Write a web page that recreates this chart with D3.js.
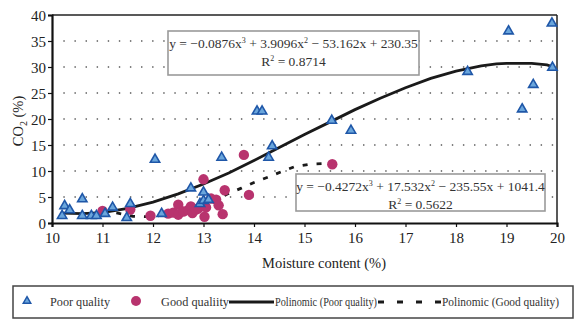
<!DOCTYPE html>
<html>
<head>
<meta charset="utf-8">
<script src="https://cdn.jsdelivr.net/npm/d3@7"></script>
<style>
  body { margin: 0; background: #fff; }
  svg { font-family: "Liberation Serif", "DejaVu Serif", serif; }
</style>
</head>
<body>
<div id="chart"></div>
<script>
var w = 577, h = 321;
var plotL = 52, plotR = 557, plotT = 15, plotB = 223;

// poor quality samples: moisture %, CO2 %
var poorX = [10.2, 10.25, 10.35, 10.6, 10.6, 10.78, 10.88, 11.05, 11.2, 11.48, 11.55, 12.04, 12.17,
             12.75, 12.93, 13.0, 13.0, 13.1, 13.36, 14.06, 14.16, 14.29, 14.36, 15.54, 15.92,
             18.23, 19.04, 19.31, 19.53, 19.9, 19.91];
var poorY = [1.2, 3.1, 2.3, 4.4, 1.2, 1.2, 1.2, 1.6, 2.8, 0.8, 3.5, 12.0, 1.6,
             6.5, 3.5, 4.1, 5.7, 4.3, 12.4, 21.3, 21.3, 12.4, 14.6, 19.5, 17.6,
             28.9, 36.7, 21.7, 26.4, 38.2, 29.7];

// good quality samples
var goodX = [11.0, 11.55, 11.95, 12.3, 12.4, 12.5, 12.5, 12.6, 12.7, 12.75, 12.78, 12.85, 12.9,
             13.0, 13.02, 13.05, 13.15, 13.25, 13.3, 13.38, 13.42, 13.8, 13.9, 15.55];
var goodY = [2.3, 2.6, 1.4, 1.8, 2.0, 3.5, 1.6, 2.2, 2.5, 3.2, 1.9, 2.6, 2.8,
             8.4, 1.2, 3.0, 4.7, 4.5, 3.4, 1.7, 6.3, 13.1, 5.4, 11.3];

// trend curves
var trendPoorX = [10.2, 10.6, 11.0, 11.5, 12.0, 12.5, 13.0, 13.5, 14.0, 14.5, 15.0, 15.5, 16.0,
                  16.5, 17.0, 17.5, 18.0, 18.5, 18.8, 19.0, 19.5, 19.8, 19.9];
var trendPoorY = [1.9, 1.8, 2.0, 2.8, 4.0, 5.6, 7.5, 9.6, 12.0, 14.5, 17.0, 19.4, 21.8,
                  24.0, 26.0, 27.8, 29.2, 30.2, 30.6, 30.7, 30.7, 30.4, 30.1];
var trendGoodX = [11.0, 11.3, 11.6, 12.0, 12.4, 12.7, 13.0, 13.25, 13.5, 13.75, 14.0, 14.3, 14.55,
                  14.8, 15.1, 15.55];
var trendGoodY = [2.4, 1.9, 1.3, 1.2, 1.9, 2.6, 3.5, 4.4, 5.7, 6.7, 7.8, 8.9, 9.9,
                  10.8, 11.3, 11.5];

var xTicks = [10, 11, 12, 13, 14, 15, 16, 17, 18, 19, 20];
var yTicks = [0, 5, 10, 15, 20, 25, 30, 35, 40];

var triColor = "#6aa6dc", triStroke = "#1f57a8", dotColor = "#b8336e";

var svg = d3.select("#chart").append("svg")
    .attr("width", w)
    .attr("height", h);

var x = d3.scaleLinear().domain([10, 20]).range([plotL, plotR]);
var y = d3.scaleLinear().domain([0, 40]).range([plotB, plotT]);

// dotted grid
svg.append("g").selectAll("line")
    .data(yTicks.filter(function (d) { return d > 0 && d < 40; }))
    .enter().append("line")
    .attr("x1", plotL + 12).attr("x2", plotR)
    .attr("y1", function (d) { return y(d); })
    .attr("y2", function (d) { return y(d); })
    .attr("stroke", "#444")
    .attr("stroke-width", 1.6)
    .attr("stroke-linecap", "round")
    .attr("stroke-dasharray", "0.1,11");

// frame top / right
svg.append("line").attr("x1", plotL).attr("x2", plotR).attr("y1", plotT).attr("y2", plotT)
    .attr("stroke", "#222").attr("stroke-width", 1.5);
svg.append("line").attr("x1", plotR).attr("x2", plotR).attr("y1", plotT).attr("y2", plotB)
    .attr("stroke", "#222").attr("stroke-width", 1.5);

// axes
var xAxis = d3.axisBottom(x).tickValues(xTicks).tickSize(4).tickPadding(5);
var yAxis = d3.axisLeft(y).tickValues(yTicks).tickSize(4).tickPadding(2);

var gx = svg.append("g").attr("transform", "translate(0," + plotB + ")").call(xAxis);
var gy = svg.append("g").attr("transform", "translate(" + plotL + ",0)").call(yAxis);
[gx, gy].forEach(function (g) {
    g.select(".domain").attr("stroke", "#111").attr("stroke-width", 2.2);
    g.selectAll(".tick line").attr("stroke", "#111").attr("stroke-width", 1.2);
    g.selectAll(".tick text")
        .attr("font-family", "Liberation Serif, serif")
        .attr("font-size", 15)
        .attr("fill", "#222");
});
gy.selectAll(".tick text").attr("dy", "0.35em");

// axis titles
svg.append("text")
    .attr("x", 324).attr("y", 268)
    .attr("text-anchor", "middle")
    .attr("font-size", 14.5)
    .attr("fill", "#222")
    .text("Moisture content (%)");

var yl = svg.append("text")
    .attr("transform", "translate(23,121) rotate(-90)")
    .attr("text-anchor", "middle")
    .attr("font-size", 14.5)
    .attr("fill", "#222");
yl.append("tspan").text("CO");
yl.append("tspan").attr("font-size", 10).attr("dy", 4).text("2");
yl.append("tspan").attr("dy", -4).text(" (%)");

// trend lines
var line = d3.line()
    .x(function (d) { return x(d[0]); })
    .y(function (d) { return y(d[1]); });

svg.append("path")
    .datum(d3.zip(trendPoorX, trendPoorY))
    .attr("d", line)
    .attr("fill", "none")
    .attr("stroke", "#1a1a1a")
    .attr("stroke-width", 2.8);

svg.append("path")
    .datum(d3.zip(trendGoodX, trendGoodY))
    .attr("d", line)
    .attr("fill", "none")
    .attr("stroke", "#1a1a1a")
    .attr("stroke-width", 2.8)
    .attr("stroke-dasharray", "5,9");

// points
var tri = d3.symbol().type(d3.symbolTriangle).size(38);

svg.append("g").selectAll("circle")
    .data(d3.zip(goodX, goodY))
    .enter().append("circle")
    .attr("cx", function (d) { return x(d[0]); })
    .attr("cy", function (d) { return y(d[1]); })
    .attr("r", 5.2)
    .attr("fill", dotColor);

svg.append("g").selectAll("path")
    .data(d3.zip(poorX, poorY))
    .enter().append("path")
    .attr("d", tri)
    .attr("transform", function (d) { return "translate(" + x(d[0]) + "," + (y(d[1]) - 1) + ")"; })
    .attr("fill", triColor)
    .attr("stroke", triStroke)
    .attr("stroke-width", 1.6);

// equation boxes
function eqBox(bx, by, bw, bh, a, b, c, d, r2) {
    var g = svg.append("g");
    g.append("rect")
        .attr("x", bx).attr("y", by).attr("width", bw).attr("height", bh)
        .attr("fill", "#fff").attr("stroke", "#9a9a9a").attr("stroke-width", 1.6);
    var t = g.append("text")
        .attr("x", bx + bw / 2).attr("y", by + 17)
        .attr("text-anchor", "middle").attr("font-size", 13.5).attr("fill", "#333");
    t.append("tspan").text("y = \u2212" + a + "x");
    t.append("tspan").attr("font-size", 8).attr("dy", -5).text("3");
    t.append("tspan").attr("dy", 5).text(" + " + b + "x");
    t.append("tspan").attr("font-size", 8).attr("dy", -5).text("2");
    t.append("tspan").attr("dy", 5).text(" \u2212 " + c + "x + " + d);
    var t2 = g.append("text")
        .attr("x", bx + bw / 2).attr("y", by + 35)
        .attr("text-anchor", "middle").attr("font-size", 13.5).attr("fill", "#333");
    t2.append("tspan").text("R");
    t2.append("tspan").attr("font-size", 8).attr("dy", -5).text("2");
    t2.append("tspan").attr("dy", 5).text(" = " + r2);
}
eqBox(168, 31, 251, 44, "0.0876", "3.9096", "53.162", "230.35", "0.8714");
eqBox(296, 174, 249, 37, "0.4272", "17.532", "235.55", "1041.4", "0.5622");

// legend
var lg = svg.append("g");
lg.append("rect")
    .attr("x", 13).attr("y", 286).attr("width", 560).attr("height", 32)
    .attr("fill", "#fff").attr("stroke", "#444").attr("stroke-width", 1.5);
var ly = 302;
lg.append("path").attr("d", d3.symbol().type(d3.symbolTriangle).size(24))
    .attr("transform", "translate(27," + (ly - 1) + ")")
    .attr("fill", triColor).attr("stroke", triStroke).attr("stroke-width", 1.5);
lg.append("circle").attr("cx", 136).attr("cy", ly - 1).attr("r", 5).attr("fill", dotColor);
lg.append("line").attr("x1", 229).attr("x2", 274).attr("y1", ly).attr("y2", ly)
    .attr("stroke", "#1a1a1a").attr("stroke-width", 2.8);
lg.append("line").attr("x1", 378).attr("x2", 442).attr("y1", ly).attr("y2", ly)
    .attr("stroke", "#1a1a1a").attr("stroke-width", 2.8).attr("stroke-dasharray", "6,13");
var labels = [["Poor quality", 50, 60], ["Good qualiity", 161, 68],
              ["Polinomic (Poor quality)", 275, 102], ["Polinomic (Good quality)", 442, 117]];
lg.selectAll("text.lab").data(labels).enter().append("text")
    .attr("class", "lab")
    .attr("x", function (d) { return d[1]; })
    .attr("y", ly + 4)
    .attr("font-size", 11.5)
    .attr("fill", "#333")
    .attr("textLength", function (d) { return d[2]; })
    .attr("lengthAdjust", "spacingAndGlyphs")
    .text(function (d) { return d[0]; });
</script>
</body>
</html>
